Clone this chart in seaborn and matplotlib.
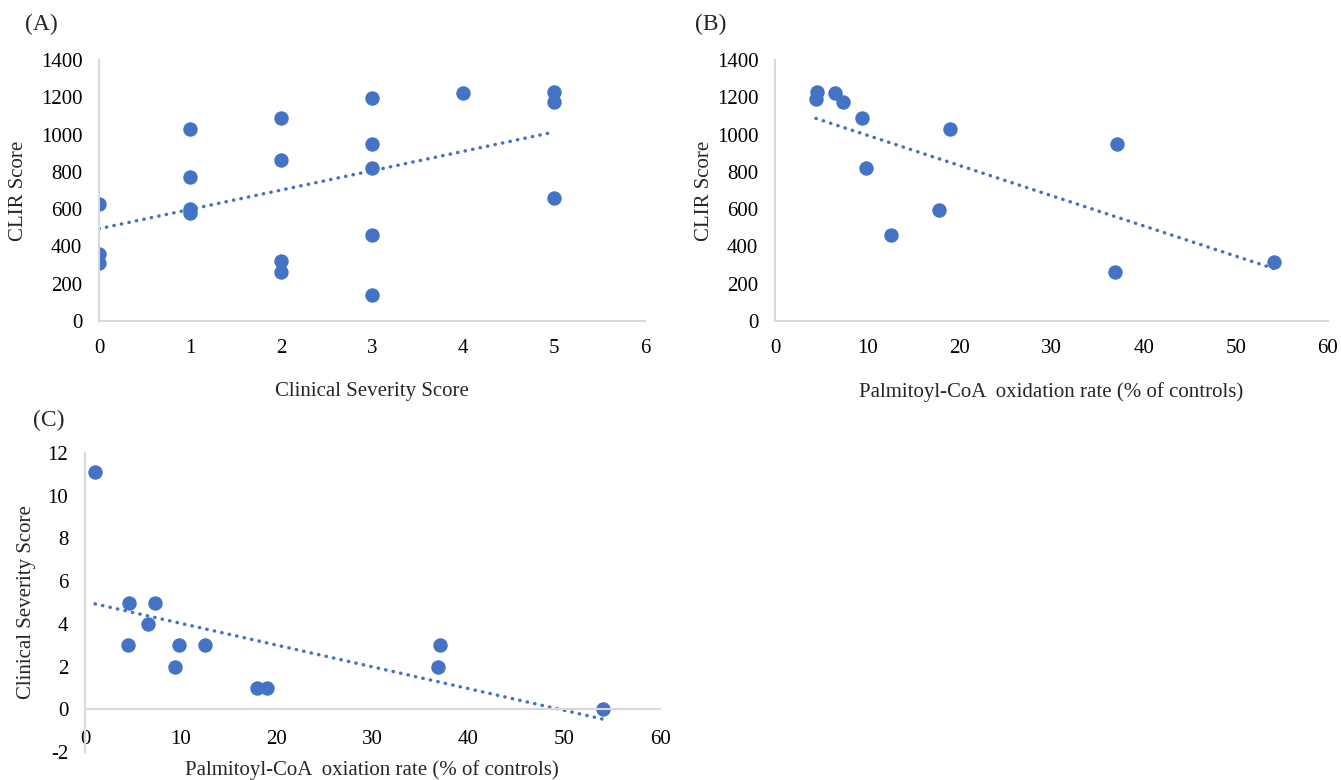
import numpy as np
import pandas as pd
import matplotlib
matplotlib.use("Agg")
import matplotlib.pyplot as plt
import seaborn as sns

# (A) clinical severity vs CLIR
sev_a = [0, 0, 0, 1, 1, 1, 1, 2, 2, 2, 2, 3, 3, 3, 3, 3, 4, 5, 5, 5]
clir_a = [630, 358, 313, 1030, 770, 598, 578, 1090, 865, 320, 265,
          1195, 948, 822, 462, 141, 1223, 1227, 1173, 658]

# (B) palmitoyl-CoA oxidation vs CLIR
palm_b = [4.55, 4.45, 6.5, 7.35, 9.4, 9.9, 12.55, 17.85, 19.0, 36.9, 37.1, 54.1]
clir_b = [1228, 1192, 1223, 1172, 1090, 822, 462, 595, 1030, 265, 948, 315]

# (C) palmitoyl-CoA oxidation vs clinical severity
palm_c = [1.05, 4.6, 7.35, 6.55, 4.45, 9.85, 12.5, 9.35, 17.9, 18.95, 37.05, 36.85, 54.0]
sev_c = [11.1, 5, 5, 4, 3, 3, 3, 2, 1, 1, 3, 2, 0]

df_a = pd.DataFrame({"x": sev_a, "y": clir_a})
df_b = pd.DataFrame({"x": palm_b, "y": clir_b})
df_c = pd.DataFrame({"x": palm_c, "y": sev_c})

sns.set_style("white")
plt.rcParams["font.family"] = ["Liberation Serif", "DejaVu Serif"]
plt.rcParams["axes.unicode_minus"] = False

blue = "#4472C4"
grey = "#D9D9D9"
fs = 15

fig = plt.figure(figsize=(13.41, 7.80), dpi=100)
ax_a = fig.add_axes([0.0738, 0.5885, 0.4072, 0.3346])
ax_b = fig.add_axes([0.5779, 0.5885, 0.4124, 0.3346])
ax_c = fig.add_axes([0.0634, 0.0359, 0.4288, 0.3833])


def draw(ax, data):
    sns.regplot(x="x", y="y", data=data, ax=ax, ci=None, truncate=True,
                scatter_kws={"s": 108, "color": blue, "alpha": 1, "linewidths": 0},
                line_kws={"color": blue, "lw": 2.5, "linestyle": (0, (0.1, 2.1)),
                          "dash_capstyle": "round"})
    for s in ["top", "right"]:
        ax.spines[s].set_visible(False)
    for s in ["left", "bottom"]:
        ax.spines[s].set_color(grey)
        ax.spines[s].set_linewidth(1.5)
    ax.tick_params(length=0, labelsize=fs, colors="black")
    ax.set_xlabel("")
    ax.set_ylabel("")


draw(ax_a, df_a)
ax_a.set_xlim(0, 6)
ax_a.set_ylim(0, 1400)
ax_a.set_xticks(range(0, 7))
ax_a.set_yticks(range(0, 1401, 200))
ax_a.tick_params(axis="x", pad=13)
ax_a.tick_params(axis="y", pad=12)
ax_a.set_xlabel("Clinical Severity Score", fontsize=fs, labelpad=17)
ax_a.set_ylabel("CLIR Score", fontsize=fs, labelpad=9)

draw(ax_b, df_b)
ax_b.set_xlim(0, 60)
ax_b.set_ylim(0, 1400)
ax_b.set_xticks(range(0, 61, 10))
ax_b.set_yticks(range(0, 1401, 200))
ax_b.tick_params(axis="x", pad=13)
ax_b.tick_params(axis="y", pad=12)
ax_b.set_xlabel("Palmitoyl-CoA  oxidation rate (% of controls)", fontsize=fs, labelpad=17)
ax_b.set_ylabel("CLIR Score", fontsize=fs, labelpad=2)

draw(ax_c, df_c)
ax_c.set_xlim(0, 60)
ax_c.set_ylim(-2, 12)
ax_c.set_xticks(range(0, 61, 10))
ax_c.set_yticks(range(-2, 13, 2))
ax_c.spines["bottom"].set_position(("data", 0))
ax_c.tick_params(axis="x", pad=15)
ax_c.tick_params(axis="y", pad=12)
ax_c.set_ylabel("Clinical Severity Score", fontsize=fs, labelpad=8)
fig.text(0.2775, 0.013, "Palmitoyl-CoA  oxiation rate (% of controls)",
         fontsize=fs, ha="center", va="center")

fig.text(0.019, 0.969, "(A)", fontsize=17, ha="left", va="center")
fig.text(0.518, 0.969, "(B)", fontsize=17, ha="left", va="center")
fig.text(0.0246, 0.4615, "(C)", fontsize=17, ha="left", va="center")

fig.savefig("out.png", dpi=100)
